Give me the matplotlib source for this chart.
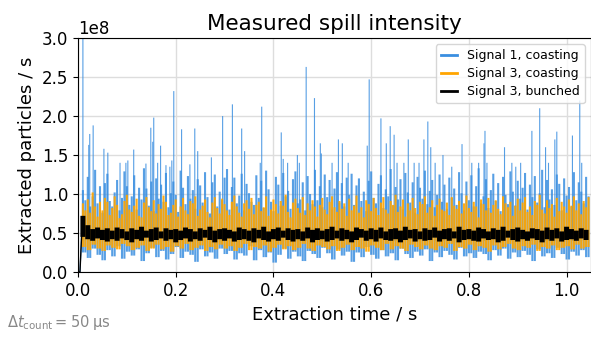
import numpy as np
import matplotlib
matplotlib.use("Agg")
import matplotlib.pyplot as plt
from matplotlib.lines import Line2D

# All values in units of 1e8 particles / s.
# The raw trace (50 us counts) is far too dense to retype, so each signal is
# kept as per-bin minimum / maximum: maxima in 5 ms bins, minima in 10 ms bins,
# first bin starting at t = 0.01 s.
fine_bin = 0.005
coarse_bin = 0.01

# switch-on of the extraction
rise_t = [0.0, 0.004, 0.008]
rise_v = [0.0, 0.0, 0.55]

blue_hi = [1.05, 0.92, 1.22, 0.84, 0.97, 1.31, 0.88, 1.10, 0.76, 1.14,
           1.26, 0.91, 0.84, 1.02, 1.18, 0.79, 0.95, 1.29, 1.10, 0.86,
           0.97, 1.24, 0.80, 1.08, 0.93, 1.33, 1.07, 0.85, 1.16, 0.78,
           1.20, 0.94, 1.12, 0.90, 1.27, 0.83, 1.01, 1.16, 0.99, 0.77,
           1.30, 1.08, 0.87, 1.23, 0.94, 1.05, 0.81, 1.19, 1.11, 0.89,
           1.28, 0.96, 0.75, 1.15, 1.25, 0.84, 1.03, 0.92, 1.21, 1.32,
           0.80, 1.09, 1.21, 0.88, 0.98, 1.26, 0.79, 1.13, 1.01, 0.90,
           0.86, 1.24, 0.95, 1.17, 0.82, 1.30, 1.06, 0.90, 0.78, 1.22,
           1.12, 0.85, 1.27, 0.97, 1.04, 0.81, 1.19, 1.29, 0.88, 0.93,
           1.15, 0.79, 1.23, 1.00, 0.87, 1.31, 0.92, 1.10, 0.83, 1.25,
           0.96, 1.18, 0.80, 1.07, 1.28, 0.89, 1.14, 0.84, 1.21, 0.99,
           1.26, 0.86, 1.11, 1.20, 0.91, 1.03, 0.78, 1.17, 1.29, 0.95,
           0.88, 1.13, 1.24, 0.82, 1.06, 0.97, 1.32, 0.85, 1.09, 0.93,
           1.19, 0.80, 1.27, 1.02, 0.89, 1.15, 0.76, 1.22, 1.08, 0.94,
           1.30, 0.87, 1.04, 1.18, 0.83, 0.99, 1.25, 0.90, 1.12, 0.81,
           1.21, 0.95, 1.07, 0.86, 1.28, 1.01, 0.79, 1.16, 0.92, 1.24,
           0.84, 1.10, 1.33, 0.88, 0.97, 1.19, 0.82, 1.05, 1.26, 0.91,
           1.14, 0.78, 1.22, 0.99, 0.87, 1.29, 1.03, 0.85, 1.17, 0.94,
           1.08, 1.27, 0.80, 1.12, 0.96, 1.23, 0.89, 1.01, 1.31, 0.83,
           1.18, 0.93, 1.06, 0.86, 1.25, 1.13, 0.79, 1.20, 0.98, 1.09,
           0.84, 1.28, 0.92, 1.15, 1.03, 0.88, 1.22, 0.97]
blue_lo = [0.25, 0.18, 0.30, 0.22, 0.15, 0.28, 0.20, 0.33, 0.17, 0.26,
           0.21, 0.29, 0.14, 0.24, 0.31, 0.19, 0.27, 0.16, 0.23, 0.32,
           0.18, 0.26, 0.22, 0.13, 0.29, 0.20, 0.25, 0.17, 0.30, 0.23,
           0.27, 0.16, 0.24, 0.21, 0.33, 0.15, 0.28, 0.19, 0.25, 0.12,
           0.22, 0.30, 0.17, 0.26, 0.20, 0.14, 0.27, 0.23, 0.18, 0.31,
           0.24, 0.16, 0.29, 0.21, 0.26, 0.13, 0.25, 0.19, 0.32, 0.22,
           0.17, 0.28, 0.20, 0.24, 0.15, 0.30, 0.23, 0.18, 0.26, 0.21,
           0.29, 0.14, 0.25, 0.19, 0.27, 0.22, 0.16, 0.31, 0.20, 0.24,
           0.18, 0.26, 0.23, 0.15, 0.28, 0.21, 0.30, 0.17, 0.25, 0.19,
           0.27, 0.22, 0.14, 0.29, 0.20, 0.24, 0.18, 0.31, 0.23, 0.16,
           0.26, 0.21, 0.28, 0.19]

# tall single-sample spikes of signal 1 (time in s, value in 1e8 / s)
spike_t = [0.010, 0.022, 0.024, 0.031, 0.053, 0.061, 0.086, 0.098, 0.102, 0.114,
           0.139, 0.149, 0.153, 0.155, 0.163, 0.169, 0.180, 0.188, 0.192, 0.196,
           0.212, 0.229, 0.239, 0.245, 0.273, 0.296, 0.316, 0.335, 0.341, 0.373,
           0.376, 0.416, 0.420, 0.429, 0.449, 0.453, 0.467, 0.484, 0.496, 0.498,
           0.520, 0.533, 0.541, 0.553, 0.592, 0.596, 0.620, 0.631, 0.639, 0.647,
           0.653, 0.667, 0.676, 0.688, 0.698, 0.708, 0.716, 0.722, 0.731, 0.747,
           0.765, 0.786, 0.806, 0.820, 0.831, 0.833, 0.837, 0.873, 0.888, 0.896,
           0.906, 0.929, 0.945, 0.957, 0.963, 0.976, 0.980, 1.012, 1.027, 1.031]
spike_v = [3.00, 1.63, 1.77, 1.88, 1.58, 1.53, 1.40, 1.40, 1.43, 1.57,
           1.39, 1.85, 1.67, 1.98, 1.40, 1.62, 1.37, 1.35, 1.43, 2.32,
           1.83, 1.38, 1.84, 1.55, 1.47, 2.00, 2.15, 1.84, 1.55, 1.40,
           2.12, 1.79, 1.45, 1.40, 1.50, 1.40, 2.63, 2.23, 1.65, 1.52,
           1.40, 1.70, 1.65, 1.40, 1.62, 2.47, 1.97, 1.65, 1.87, 1.76,
           1.40, 1.40, 1.70, 1.40, 1.40, 1.70, 1.93, 1.60, 1.40, 1.50,
           1.35, 1.64, 1.40, 1.40, 1.65, 1.81, 1.40, 1.60, 1.40, 1.35,
           1.40, 1.81, 2.10, 1.60, 1.40, 1.70, 1.80, 1.75, 2.20, 1.40]

orange_hi = [0.88, 0.79, 0.93, 0.76, 1.02, 0.84, 0.71, 0.90, 0.79, 0.95,
             0.90, 0.73, 0.82, 0.97, 0.86, 0.69, 0.74, 0.91, 0.99, 0.80,
             0.77, 0.85, 0.94, 0.72, 0.70, 0.89, 0.96, 0.83, 0.78, 0.92,
             0.75, 0.87, 0.81, 0.98, 0.90, 0.73, 0.76, 0.86, 0.93, 0.71,
             0.84, 0.95, 0.79, 0.74, 0.91, 0.88, 0.97, 0.72, 0.80, 0.85,
             0.93, 0.77, 0.70, 0.89, 0.96, 0.82, 0.75, 0.94, 0.87, 0.79,
             0.73, 0.90, 0.98, 0.84, 0.76, 0.71, 0.88, 0.92, 0.81, 0.95,
             0.74, 0.86, 0.90, 0.78, 0.83, 0.97, 0.72, 0.80, 0.93, 0.87,
             0.75, 0.91, 0.85, 0.99, 0.77, 0.70, 0.89, 0.94, 0.82, 0.76,
             0.96, 0.73, 0.88, 0.79, 0.92, 0.84, 0.71, 0.86, 0.95, 0.80,
             0.74, 0.90, 0.97, 0.83, 0.77, 0.91, 0.81, 0.88, 0.72, 0.94,
             0.79, 0.85, 0.98, 0.76, 0.83, 0.70, 0.92, 0.87, 0.78, 0.95,
             0.82, 0.73, 0.89, 0.96, 0.80, 0.75, 0.91, 0.86, 0.99, 0.77,
             0.84, 0.93, 0.71, 0.88, 0.79, 0.95, 0.82, 0.74, 0.90, 0.87,
             0.97, 0.76, 0.83, 0.92, 0.72, 0.86, 0.94, 0.80, 0.78, 0.89,
             0.73, 0.96, 0.85, 0.81, 0.91, 0.75, 0.88, 0.98, 0.82, 0.77,
             0.90, 0.84, 0.70, 0.93, 0.87, 0.79, 0.95, 0.76, 0.86, 0.92,
             0.81, 0.74, 0.97, 0.88, 0.83, 0.90, 0.72, 0.85, 0.94, 0.79,
             0.89, 0.96, 0.77, 0.84, 0.73, 0.91, 0.86, 0.99, 0.80, 0.75,
             0.92, 0.82, 0.87, 0.71, 0.95, 0.78, 0.90, 0.84, 0.76, 0.93,
             0.85, 0.97, 0.79, 0.88, 0.74, 0.91, 0.83, 0.96]
orange_lo = [0.32, 0.28, 0.35, 0.30, 0.27, 0.34, 0.31, 0.29, 0.36, 0.33,
             0.28, 0.31, 0.34, 0.27, 0.30, 0.35, 0.29, 0.32, 0.26, 0.33,
             0.30, 0.36, 0.28, 0.31, 0.34, 0.27, 0.32, 0.29, 0.35, 0.30,
             0.33, 0.27, 0.31, 0.36, 0.28, 0.32, 0.30, 0.34, 0.26, 0.31,
             0.35, 0.29, 0.33, 0.28, 0.31, 0.36, 0.30, 0.27, 0.34, 0.32,
             0.29, 0.33, 0.27, 0.31, 0.35, 0.28, 0.32, 0.30, 0.26, 0.34,
             0.31, 0.28, 0.36, 0.29, 0.33, 0.30, 0.27, 0.35, 0.32, 0.29,
             0.34, 0.30, 0.28, 0.33, 0.31, 0.36, 0.27, 0.32, 0.30, 0.35,
             0.28, 0.33, 0.31, 0.26, 0.34, 0.29, 0.32, 0.36, 0.30, 0.28,
             0.33, 0.31, 0.35, 0.27, 0.32, 0.30, 0.34, 0.28, 0.31, 0.33,
             0.29, 0.35, 0.30, 0.32]

black_hi = [0.72, 0.60, 0.55, 0.57, 0.54, 0.56, 0.53, 0.57, 0.55, 0.52,
            0.56, 0.54, 0.58, 0.53, 0.55, 0.57, 0.52, 0.56, 0.54, 0.55,
            0.53, 0.57, 0.55, 0.52, 0.56, 0.54, 0.58, 0.53, 0.55, 0.56,
            0.54, 0.52, 0.57, 0.55, 0.53, 0.56, 0.54, 0.58, 0.52, 0.55,
            0.57, 0.53, 0.56, 0.54, 0.55, 0.52, 0.57, 0.54, 0.56, 0.53,
            0.55, 0.58, 0.53, 0.56, 0.54, 0.52, 0.57, 0.55, 0.53, 0.56,
            0.54, 0.57, 0.52, 0.55, 0.56, 0.53, 0.58, 0.54, 0.55, 0.52,
            0.56, 0.54, 0.57, 0.53, 0.55, 0.56, 0.52, 0.58, 0.54, 0.55,
            0.53, 0.57, 0.55, 0.52, 0.56, 0.54, 0.58, 0.53, 0.55, 0.57,
            0.54, 0.52, 0.56, 0.55, 0.53, 0.57, 0.54, 0.56, 0.52, 0.58,
            0.55, 0.53, 0.56, 0.54]
black_lo = [0.45, 0.42, 0.40, 0.43, 0.41, 0.39, 0.42, 0.40, 0.43, 0.41,
            0.38, 0.42, 0.40, 0.44, 0.39, 0.41, 0.43, 0.40, 0.42, 0.38,
            0.41, 0.43, 0.39, 0.42, 0.40, 0.44, 0.41, 0.38, 0.42, 0.40,
            0.43, 0.39, 0.41, 0.42, 0.40, 0.38, 0.43, 0.41, 0.39, 0.42,
            0.40, 0.44, 0.41, 0.39, 0.42, 0.40, 0.43, 0.38, 0.41, 0.42,
            0.39, 0.41, 0.43, 0.40, 0.42, 0.38, 0.41, 0.44, 0.40, 0.42,
            0.39, 0.43, 0.41, 0.40, 0.42, 0.38, 0.41, 0.43, 0.39, 0.42,
            0.40, 0.41, 0.44, 0.39, 0.42, 0.40, 0.43, 0.38, 0.41, 0.42,
            0.40, 0.39, 0.43, 0.41, 0.42, 0.38, 0.40, 0.44, 0.41, 0.39,
            0.42, 0.40, 0.43, 0.41, 0.38, 0.42, 0.40, 0.43, 0.39, 0.41,
            0.42, 0.40, 0.43, 0.41]

E8 = 1e8
blue = "#3a8ee0"
orange = "#ffa500"

# bin positions
t_fine = fine_bin * np.arange(len(blue_hi)) + coarse_bin
t_coarse = coarse_bin * np.arange(len(black_hi)) + coarse_bin
# each 10 ms minimum covers both 5 ms sub-bins
blue_lo_f = np.repeat(blue_lo, 2)
orange_lo_f = np.repeat(orange_lo, 2)

fig = plt.figure(figsize=(5.91, 3.37), dpi=100)
ax = fig.add_axes([0.132, 0.193, 0.868, 0.694])

# signal 1, coasting
ax.vlines(t_fine, blue_lo_f * E8, np.array(blue_hi) * E8, color=blue,
          lw=1.5, alpha=0.85, snap=False)
ax.vlines(spike_t, 0.4 * E8, np.array(spike_v) * E8, color=blue,
          lw=0.8, alpha=0.85, snap=False)
ax.plot(rise_t, np.array(rise_v) * E8, color=blue, lw=0.8)
# signal 3, coasting
ax.vlines(t_fine, orange_lo_f * E8, np.array(orange_hi) * E8, color=orange,
          lw=1.5, alpha=0.92, snap=False)
# signal 3, bunched
ax.vlines(t_coarse, np.array(black_lo) * E8, np.array(black_hi) * E8,
          color="black", lw=3.6, snap=False)
ax.plot(rise_t, np.array(rise_v) * E8, color="black", lw=1.0)

ax.set_xlim(0, 1.05)
ax.set_ylim(0, 3.0e8)
ax.set_yticks(np.arange(0, 3.01e8, 0.5e8))
ax.grid(color="#dddddd", lw=1)
ax.set_axisbelow(True)
ax.tick_params(labelsize=12)
ax.yaxis.get_offset_text().set_fontsize(12)

ax.set_title("Measured spill intensity", fontsize=15.5)
ax.set_xlabel("Extraction time / s", fontsize=13)
ax.set_ylabel("Extracted particles / s", fontsize=13)

handles = [Line2D([], [], color=blue, lw=2),
           Line2D([], [], color=orange, lw=2),
           Line2D([], [], color="black", lw=2)]
ax.legend(handles, ["Signal 1, coasting", "Signal 3, coasting", "Signal 3, bunched"],
          loc="upper right", fontsize=9, handlelength=1.3, labelspacing=0.4)

fig.text(0.012, 0.03, r"$\Delta t_\mathrm{count} = 50\;\mathrm{\mu s}$",
         color="#888888", fontsize=10.5)

fig.savefig("out.png", dpi=100)
